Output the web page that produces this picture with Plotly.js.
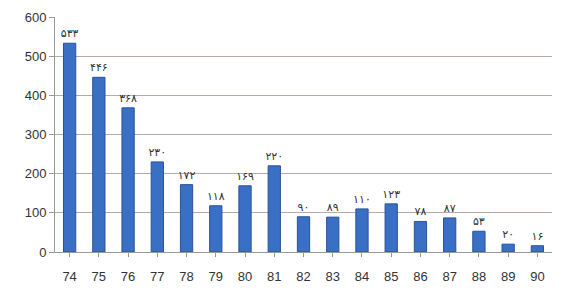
<!DOCTYPE html>
<html><head><meta charset="utf-8">
<script src="https://cdn.plot.ly/plotly-3.0.1.min.js"></script>
<style>html,body{margin:0;padding:0;background:#fff}#c{width:580px;height:302px}</style>
</head><body><div id="c"></div>
<script>
const years = ["74","75","76","77","78","79","80","81","82","83","84","85","86","87","88","89","90"];
const values = [533,446,368,230,172,118,169,220,90,89,110,123,78,87,53,20,16];
const labels = ["۵۳۳","۴۴۶","۳۶۸","۲۳۰","۱۷۲","۱۱۸","۱۶۹","۲۲۰","۹۰","۸۹","۱۱۰","۱۲۳","۷۸","۸۷","۵۳","۲۰","۱۶"];
const yTicks = [0,100,200,300,400,500,600];

Plotly.newPlot('c', [{
  type: 'bar', x: years, y: values, text: labels, textposition: 'outside',
  cliponaxis: false, constraintext: 'none',
  textfont: {family: 'DejaVu Sans', size: 11, color: '#333'},
  marker: {color: '#3a6fc6', line: {color: '#2a5298', width: 1}},
  hoverinfo: 'none'
}], {
  width: 580, height: 302,
  margin: {l: 55, r: 28, t: 17, b: 50},
  paper_bgcolor: '#fff', plot_bgcolor: '#fff',
  bargap: 0.58,
  showlegend: false,
  xaxis: {type: 'category', showgrid: false, showline: true, linecolor: '#999', linewidth: 1,
    ticks: 'outside', ticklen: 4, tickcolor: '#999', ticklabelstandoff: 8,
    tickfont: {family: 'Liberation Sans', size: 13, color: '#333'}},
  yaxis: {range: [0, 600], tickvals: yTicks, showgrid: true, gridcolor: '#b9aaa8', gridwidth: 1,
    showline: true, linecolor: '#999', linewidth: 1, ticks: 'outside', ticklen: 5, tickcolor: '#999',
    zeroline: false, tickfont: {family: 'Liberation Sans', size: 13, color: '#333'}}
}, {staticPlot: true});
</script></body></html>
